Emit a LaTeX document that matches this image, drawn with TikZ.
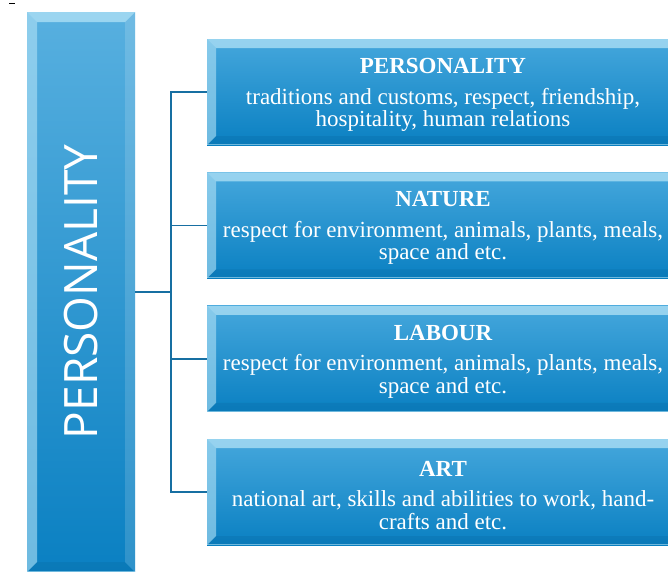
\documentclass[tikz,border=0pt]{standalone}
\usepackage{fontspec}
\setmainfont{Liberation Serif}
\newfontfamily\barfont{Open Sans}
\usetikzlibrary{positioning}

\definecolor{cardtop}{HTML}{45A7DC}
\definecolor{cardbot}{HTML}{0A80C2}
\definecolor{bevellight}{HTML}{B2E2F6}
\definecolor{beveldark}{HTML}{075E92}
\definecolor{linkblue}{HTML}{176FA2}

\tikzset{
  % bevelled edges drawn inside the node
  bevel/.style={path picture={
      \fill[bevellight,opacity=.75] (path picture bounding box.north west)
        -- (path picture bounding box.north east)
        -- ([shift={(-#1,-#1)}]path picture bounding box.north east)
        -- ([shift={(#1,-#1)}]path picture bounding box.north west) -- cycle;
      \fill[bevellight,opacity=.6] (path picture bounding box.north west)
        -- ([shift={(#1,-#1)}]path picture bounding box.north west)
        -- ([shift={(#1,#1)}]path picture bounding box.south west)
        -- (path picture bounding box.south west) -- cycle;
      \fill[white,opacity=.15] (path picture bounding box.north east)
        -- ([shift={(-#1,-#1)}]path picture bounding box.north east)
        -- ([shift={(-#1,#1)}]path picture bounding box.south east)
        -- (path picture bounding box.south east) -- cycle;
      \fill[beveldark,opacity=.2] (path picture bounding box.south west)
        -- ([shift={(#1,#1)}]path picture bounding box.south west)
        -- ([shift={(-#1,#1)}]path picture bounding box.south east)
        -- (path picture bounding box.south east) -- cycle;
      \draw[bevellight,opacity=.6,line width=1pt]
        ([yshift=.5pt]path picture bounding box.south west)
        -- ([yshift=.5pt]path picture bounding box.south east);
    }},
  card/.style={bevel=9pt, top color=cardtop, bottom color=cardbot,
    minimum width=472pt, minimum height=106pt, inner sep=0pt,
    text=white, align=center, font=\fontsize{23}{22.5}\selectfont},
  sidebar/.style={bevel=10pt, top color=cardtop!90!white, bottom color=cardbot,
    minimum width=108pt, minimum height=560pt, inner sep=0pt},
  barlabel/.style={text=white, rotate=90, font=\barfont\fontsize{46}{50}\selectfont},
  link/.style={linkblue, line width=1.8pt},
}
% bold heading line of a card, with a tall strut to push the text block down a bit
\newcommand{\cardtitle}[1]{{\bfseries\fontsize{23}{24}\selectfont\rule{0pt}{21pt}#1}\\[8pt]}

\begin{document}
\begin{tikzpicture}[x=1pt,y=-1pt]
  \clip (0,0) rectangle (668,571);
  \draw[line width=1pt] (9,3.3) -- (15,3.3);

  % left column
  \node[sidebar] (root) at (81,292) {};
  \node[barlabel] (rootlabel) at (root.center) {PERSONALITY};

  % the four cards
  \node[card] (pers) at (443,92)
    {\cardtitle{PERSONALITY}traditions and customs, respect, friendship,\\ hospitality, human relations};
  \node[card, below=27pt of pers] (nat)
    {\cardtitle{NATURE}respect for environment, animals, plants, meals,\\ space and etc.};
  \node[card, below=27pt of nat] (lab)
    {\cardtitle{LABOUR}respect for environment, animals, plants, meals,\\ space and etc.};
  \node[card, below=27pt of lab] (art)
    {\cardtitle{ART}national art, skills and abilities to work, hand-\\ crafts and etc.};

  % bracket
  \coordinate (fork) at ([xshift=36pt]root.east);
  \draw[link] (root.east) -- (fork);
  \foreach \b in {pers,nat,lab,art}
    \draw[link] (fork) |- (\b.west);
\end{tikzpicture}
\end{document}
